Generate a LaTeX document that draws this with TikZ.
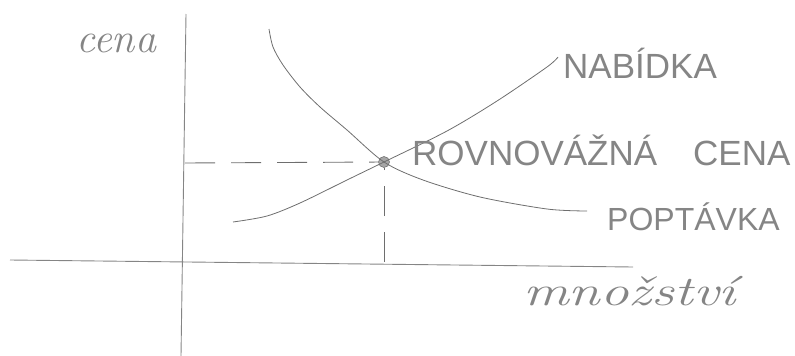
\documentclass[tikz,border=0pt]{standalone}
\usepackage{fontspec}
\usepackage{xcolor}
\usepackage{graphicx}
\usepackage{tikz}
\usetikzlibrary{positioning, calc}

\newfontfamily\capsfont{Liberation Sans}
\definecolor{pencil}{HTML}{6E6E6E}
\definecolor{graphite}{HTML}{858585}
\definecolor{lead}{HTML}{858585}

\begin{document}
\begin{tikzpicture}[
    x=1pt, y=-1pt,
    axis/.style={draw=lead, line width=0.9pt},
    curve/.style={draw=pencil, line width=0.8pt},
    guide/.style={draw=pencil, line width=0.9pt, dash pattern=on 30pt off 16pt},
    eqdot/.style={circle, fill=gray!70, draw=gray!90!black, line width=0.6pt,
                  minimum size=11pt, inner sep=0pt},
    caps/.style={text=graphite, inner sep=0pt,
                 font=\capsfont\fontsize{35}{35}\selectfont},
    hand/.style={text=graphite, inner sep=0pt,
                 font=\itshape\fontsize{42}{42}\selectfont},
]
    \useasboundingbox (0,0) rectangle (795,356);

    % Axes
    \coordinate (ytop) at (186,14);
    \coordinate (ybot) at (181,356);
    \coordinate (xleft) at (10,260);
    \coordinate (xright) at (633,267);
    \draw[axis] (ytop) -- (ybot);
    \draw[axis] (xleft) -- (xright);

    % Equilibrium
    \node[eqdot] (eq) at (384,162) {};
    \coordinate (eqy) at (185,163);
    \coordinate (eqx) at (384,262);
    \draw[guide] (eqy) -- (eq);
    \draw[guide] (eqx) -- (eq);

    % Curves
    \draw[curve] plot[smooth, tension=0.5] coordinates {
        (269,29) (273,47) (283,65) (300,87) (320,107) (347,130) (384,162)
        (423,180) (480,197) (547,209) (587,211)};
    \draw[curve] plot[smooth, tension=0.5] coordinates {
        (233,222) (267,216) (300,203) (347,180) (384,162) (447,131)
        (497,101) (547,67) (558,57)};

    % Labels
    \node[hand, anchor=base west] (cena) at (76,52) {cena};
    \node[caps, anchor=base west] (nabidka) at (563,78) {NABÍDKA};
    \node[caps, anchor=base west] (rovnovazna) at (412,165)
        {ROVNOVÁŽNÁ\hspace{36pt}CENA};
    \node[caps, anchor=base west, font=\capsfont\fontsize{32}{32}\selectfont]
        (poptavka) at (607,230) {POPTÁVKA};
    \node[hand, anchor=base west] (mnozstvi) at (523,305)
        {\scalebox{1.36}[1]{množství}};
\end{tikzpicture}
\end{document}
